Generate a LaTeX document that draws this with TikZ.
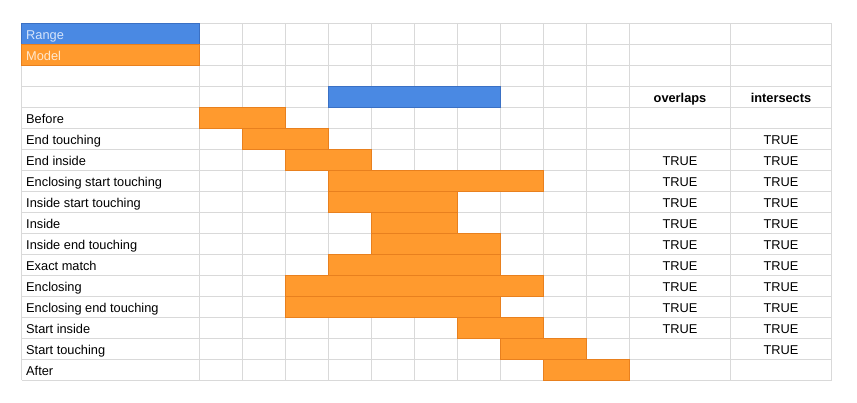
\documentclass[tikz,border=0pt]{standalone}
\usepackage{fontspec}
\setmainfont{Liberation Sans}
\definecolor{gridgray}{RGB}{217,217,217}
\definecolor{rangeblue}{RGB}{74,137,227}
\definecolor{rangeedge}{RGB}{58,112,196}
\definecolor{modelorange}{RGB}{255,154,46}
\definecolor{modeledge}{RGB}{232,128,30}
\definecolor{rangetext}{RGB}{214,228,250}
\definecolor{modeltext}{RGB}{255,232,206}
\tikzset{
  gridline/.style={draw=gridgray, line width=1pt},
  modelbar/.style={fill=modelorange, draw=modeledge, line width=0.9pt},
  rangebar/.style={fill=rangeblue, draw=rangeedge, line width=0.9pt},
  cell/.style={font=\fontsize{12.8}{14}\selectfont, inner sep=0pt, anchor=base},
  rowlabel/.style={cell, anchor=base west},
  hdr/.style={cell, font=\fontsize{12.8}{14}\selectfont\bfseries},
}
\begin{document}
\begin{tikzpicture}[x=1pt,y=-1pt]
\useasboundingbox (0,0) rectangle (857,403);
\fill[white] (0,0) rectangle (857,403);
% grid
\foreach \r in {0,...,17} {
  \draw[gridline] (21.5,{23.3+21*\r}) -- (831.5,{23.3+21*\r});
}
\foreach \x in {21.5,199.5,242.5,285.5,328.5,371.5,414.5,457.5,500.5,543.5,586.5,629.5,730.5,831.5} {
  \draw[gridline] (\x,23.3) -- (\x,380.3);
}
% legend cells
\path[rangebar] (21.5,23.3) rectangle (199.5,44.3);
\path[modelbar] (21.5,44.3) rectangle (199.5,65.3);
\node[rowlabel, text=rangetext] (lrange) at (26,39.3) {Range};
\node[rowlabel, text=modeltext] (lmodel) at (26,60.3) {Model};
% range bar
\path[rangebar] (328.5,86.3) rectangle (500.5,107.3);
% headers
\node[hdr] (hoverlaps) at (680,102.3) {overlaps};
\node[hdr] (hintersects) at (781,102.3) {intersects};
% rows: index/label/start col/end col/overlaps/intersects
\foreach \r/\lab/\a/\b/\ov/\in in {
  4/Before/0/2/0/0,
  5/End touching/1/3/0/1,
  6/End inside/2/4/1/1,
  7/Enclosing start touching/3/8/1/1,
  8/Inside start touching/3/6/1/1,
  9/Inside/4/6/1/1,
  10/Inside end touching/4/7/1/1,
  11/Exact match/3/7/1/1,
  12/Enclosing/2/8/1/1,
  13/Enclosing end touching/2/7/1/1,
  14/Start inside/6/8/1/1,
  15/Start touching/7/9/0/1,
  16/After/8/10/0/0} {
  \path[modelbar] ({199.5+43*\a},{23.3+21*\r}) rectangle ({199.5+43*\b},{44.3+21*\r});
  \node[rowlabel] (label\r) at (26,{39.3+21*\r}) {\lab};
  \ifnum\ov=1 \node[cell] (ov\r) at (680,{39.3+21*\r}) {TRUE}; \fi
  \ifnum\in=1 \node[cell] (in\r) at (781,{39.3+21*\r}) {TRUE}; \fi
}
\end{tikzpicture}
\end{document}
